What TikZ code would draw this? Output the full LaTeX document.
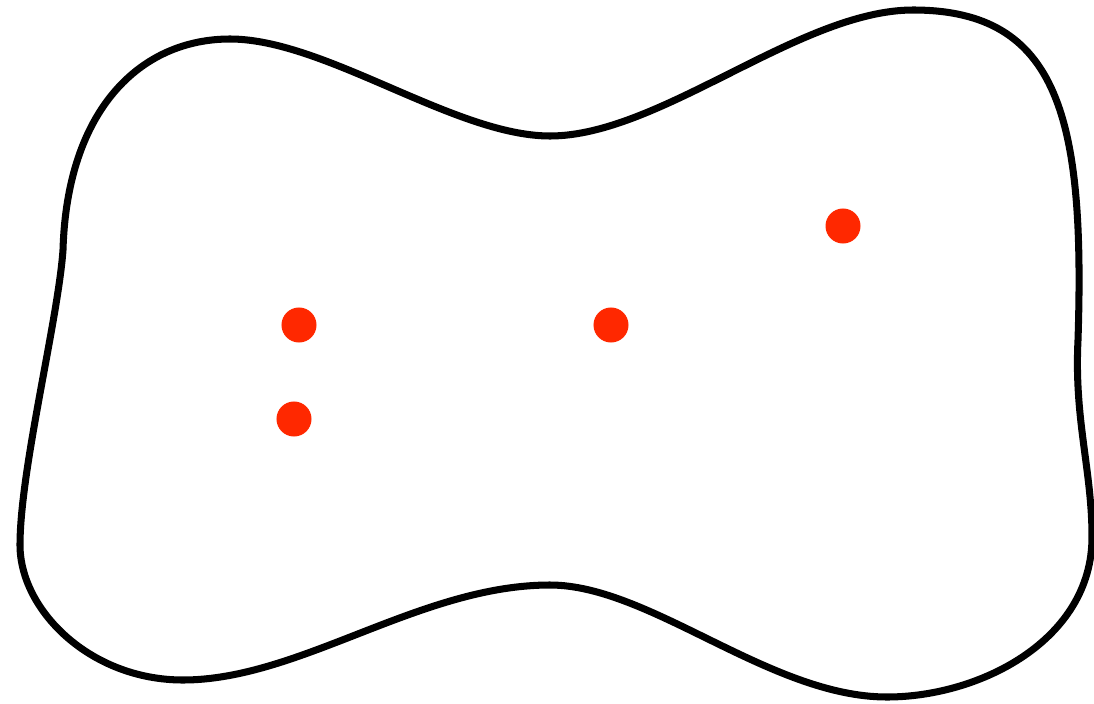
\documentclass[tikz,border=0pt]{standalone}
\usepackage{tikz}
\usetikzlibrary{positioning,calc}
\definecolor{dotred}{RGB}{255,40,0}

\begin{document}
\begin{tikzpicture}[x=0.01cm,y=-0.01cm,
      dot/.style={circle, fill=dotred, inner sep=0pt, minimum size=0.35cm},
      region/.style={line width=2pt, black}]
            \useasboundingbox (0,0) rectangle (1094,703);

            % Define the outline points
            \coordinate (TL) at (230,39);
            \coordinate (TM) at (550,136);
            \coordinate (TR) at (913,10);
            \coordinate (RM) at (1078,340);
            \coordinate (RB) at (1092,537);
            \coordinate (BR) at (887,697);
            \coordinate (BM) at (550,585);
            \coordinate (BL) at (183,680);
            \coordinate (LB) at (20,545);
            \coordinate (LT) at (63,250);

            % Define the region
            \draw[region] (TL) .. controls (325,39) and (455,136) .. (TM)
                  .. controls (660,136) and (800,10) .. (TR)
                  .. controls (1060,10) and (1085,120) .. (RM)
                  .. controls (1074,420) and (1092,470) .. (RB)
                  .. controls (1092,640) and (980,697) .. (BR)
                  .. controls (770,697) and (650,585) .. (BM)
                  .. controls (420,585) and (300,680) .. (BL)
                  .. controls (90,680) and (20,610) .. (LB)
                  .. controls (20,470) and (58,320) .. (LT)
                  .. controls (67,110) and (140,39) .. (TL) -- cycle;

            % Define the points
            \node[dot] (P1) at (299,325) {};
            \node[dot] (P2) at (294,419) {};
            \node[dot] (P3) at (611,325) {};
            \node[dot] (P4) at (843,226) {};
      \end{tikzpicture}
\end{document}
